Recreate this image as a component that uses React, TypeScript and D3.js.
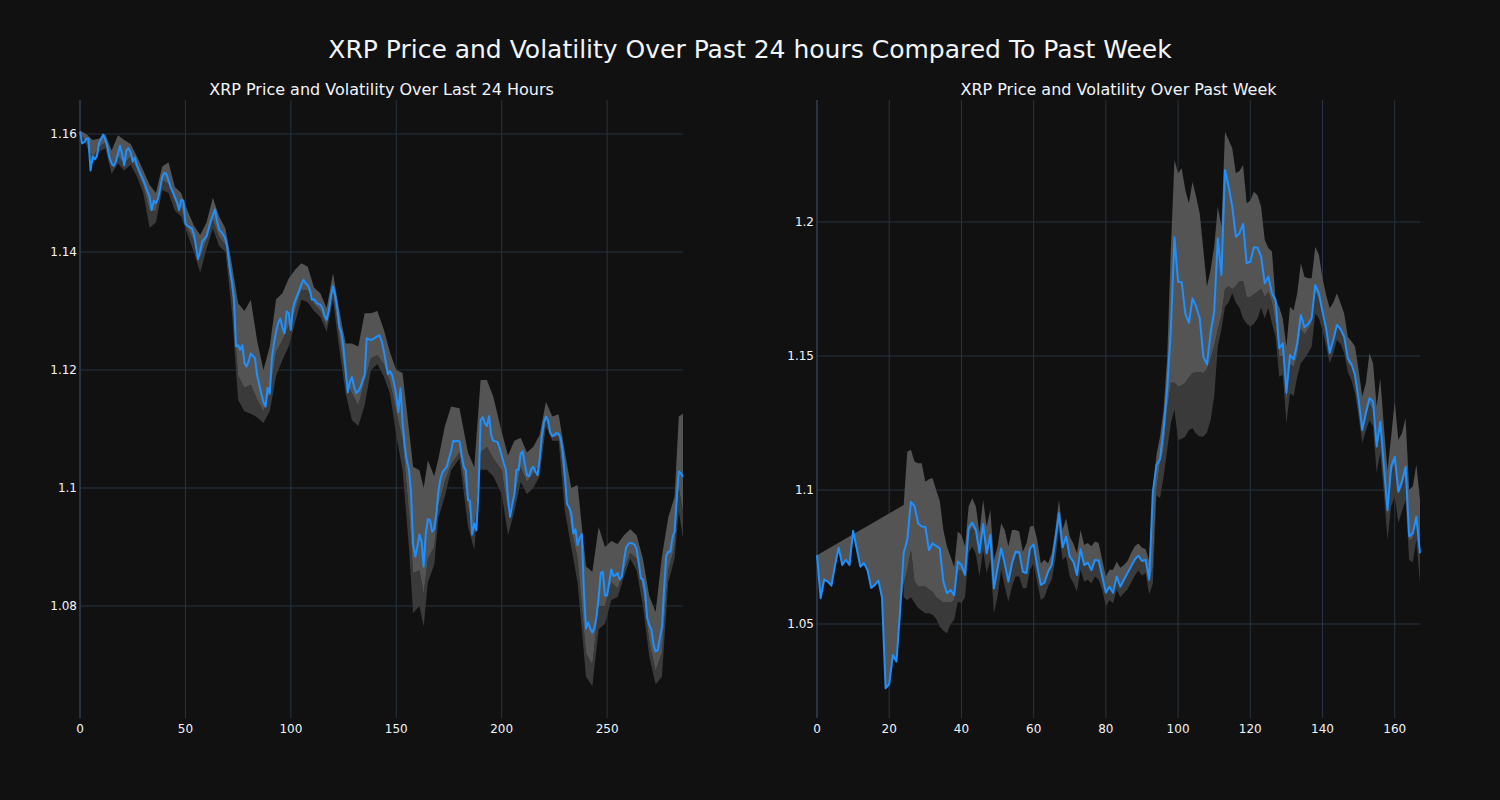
import React, { useEffect, useRef } from 'react';
import * as d3 from 'd3';

const mainTitle = 'XRP Price and Volatility Over Past 24 hours Compared To Past Week';
const dayTitle = 'XRP Price and Volatility Over Last 24 Hours';
const weekTitle = 'XRP Price and Volatility Over Past Week';

// 5-minute closes, last 24 hours (index 0..286)
const dayPrice = [
  1.1604, 1.1584, 1.1586, 1.1592, 1.1592, 1.1538, 1.1562, 1.1557, 1.1562, 1.1584,
  1.1592, 1.1599, 1.159, 1.1578, 1.156, 1.155, 1.1546, 1.1553, 1.1566, 1.158,
  1.1565, 1.1547, 1.1572, 1.1576, 1.1569, 1.1553, 1.156, 1.1547, 1.1538, 1.153,
  1.1522, 1.1513, 1.1503, 1.1494, 1.1471, 1.1487, 1.1483, 1.149, 1.1507, 1.1527,
  1.1534, 1.1532, 1.1521, 1.151, 1.1502, 1.1493, 1.1484, 1.1471, 1.1488, 1.1487,
  1.1448, 1.1444, 1.1442, 1.144, 1.143, 1.141, 1.1388, 1.1402, 1.1418, 1.1422,
  1.1426, 1.1439, 1.1452, 1.1462, 1.1472, 1.1452, 1.1438, 1.1434, 1.1429, 1.1422,
  1.1405, 1.1373, 1.135, 1.1322, 1.124, 1.1242, 1.1234, 1.1242, 1.1212, 1.1206,
  1.1215, 1.1228, 1.1224, 1.122, 1.1191, 1.1176, 1.116, 1.1146, 1.1138, 1.117,
  1.116, 1.122, 1.1245, 1.1265, 1.128, 1.1287, 1.1272, 1.1262, 1.1299, 1.1296,
  1.1268, 1.1305, 1.1317, 1.1326, 1.1335, 1.1345, 1.1353, 1.1347, 1.1344, 1.1336,
  1.1319, 1.132, 1.1315, 1.1312, 1.1311, 1.1305, 1.1292, 1.1285, 1.13, 1.1325,
  1.1342, 1.1327, 1.1306, 1.1273, 1.1263, 1.1237, 1.12, 1.1162, 1.118, 1.1188,
  1.1172, 1.1161, 1.1164, 1.1171, 1.1182, 1.1192, 1.1254, 1.1252, 1.1251, 1.1252,
  1.1255, 1.1257, 1.1259, 1.125, 1.1234, 1.1214, 1.1193, 1.1198, 1.1192, 1.1177,
  1.1158, 1.1129, 1.1169, 1.1112, 1.1072, 1.1046, 1.1032, 1.0992, 1.0905, 1.0884,
  1.09, 1.0921, 1.0909, 1.0867, 1.0922, 1.0947, 1.0946, 1.0926, 1.0931, 1.0955,
  1.0995, 1.1016, 1.1027, 1.1032, 1.1036, 1.105, 1.1062, 1.108, 1.1079, 1.108,
  1.1079, 1.1056, 1.1037, 1.103, 1.098, 1.0978, 1.0921, 1.094, 1.0928, 1.0995,
  1.1115, 1.112, 1.111, 1.1105, 1.1122, 1.109, 1.108, 1.1079, 1.1078, 1.1068,
  1.1055, 1.1042, 1.1031, 1.0982, 1.0951, 1.0972, 1.0988, 1.1031, 1.1031, 1.1058,
  1.1062, 1.104, 1.1022, 1.102, 1.1032, 1.1036, 1.1028, 1.1022, 1.1048, 1.1087,
  1.1111, 1.1121, 1.1115, 1.1094, 1.1088, 1.109, 1.1093, 1.1092, 1.1084, 1.1059,
  1.1018, 1.0973, 1.0967, 1.0958, 1.0923, 1.093, 1.0903, 1.0915, 1.0922, 1.0825,
  1.0762, 1.0772, 1.0762, 1.0755, 1.0763, 1.0782, 1.0815, 1.0856, 1.0858, 1.0818,
  1.0818, 1.084, 1.0862, 1.0851, 1.0852, 1.0856, 1.0845, 1.085, 1.0877, 1.0899,
  1.0905, 1.0907, 1.0906, 1.0904, 1.0896, 1.0874, 1.0847, 1.0845, 1.0825, 1.078,
  1.0768, 1.076, 1.0735, 1.0723, 1.0725, 1.0745, 1.0764, 1.0827, 1.0884, 1.0892,
  1.0892, 1.0916, 1.0926, 1.098, 1.1028, 1.1025, 1.1019,
];

// volatility band: [index, upper, middle, lower]
const dayBand: [number, number, number, number][] = [
  [0, 1.1606, 1.16, 1.1598], [3, 1.16, 1.1588, 1.1582], [6, 1.159, 1.156, 1.155],
  [9, 1.1592, 1.1578, 1.157], [12, 1.16, 1.1585, 1.1576], [15, 1.1572, 1.1545, 1.1532],
  [18, 1.1598, 1.1562, 1.155], [21, 1.159, 1.155, 1.1538], [24, 1.1583, 1.1562, 1.1548],
  [27, 1.1562, 1.154, 1.1528], [30, 1.1538, 1.1512, 1.15], [33, 1.1514, 1.147, 1.1441],
  [36, 1.15, 1.147, 1.145], [39, 1.1545, 1.1522, 1.1505], [42, 1.1552, 1.1515, 1.15],
  [45, 1.151, 1.1485, 1.147], [48, 1.15, 1.1475, 1.146], [51, 1.147, 1.144, 1.143],
  [54, 1.1445, 1.142, 1.14], [57, 1.1429, 1.139, 1.1365], [60, 1.145, 1.142, 1.1405],
  [63, 1.1492, 1.1455, 1.144], [66, 1.146, 1.1425, 1.141], [69, 1.144, 1.1412, 1.14],
  [72, 1.138, 1.133, 1.13], [75, 1.1313, 1.119, 1.1149], [78, 1.13, 1.117, 1.113],
  [81, 1.1319, 1.1175, 1.1126], [84, 1.125, 1.115, 1.112], [87, 1.12, 1.113, 1.111],
  [90, 1.124, 1.116, 1.113], [93, 1.132, 1.123, 1.119], [96, 1.133, 1.125, 1.1217],
  [99, 1.1355, 1.1275, 1.124], [102, 1.137, 1.13, 1.128], [105, 1.1381, 1.1335, 1.1319],
  [108, 1.1375, 1.1335, 1.1315], [111, 1.134, 1.1312, 1.13], [114, 1.133, 1.13, 1.129],
  [117, 1.1305, 1.1275, 1.1265], [120, 1.1364, 1.133, 1.1319], [123, 1.13, 1.1255, 1.1235],
  [126, 1.1245, 1.118, 1.116], [129, 1.1245, 1.116, 1.1115], [132, 1.124, 1.114, 1.1105],
  [135, 1.1296, 1.118, 1.114], [138, 1.1296, 1.122, 1.12], [141, 1.13, 1.1225, 1.121],
  [144, 1.127, 1.121, 1.119], [147, 1.123, 1.118, 1.116], [150, 1.12, 1.113, 1.109],
  [153, 1.1195, 1.108, 1.103], [156, 1.11, 1.096, 1.09], [158, 1.1036, 1.0856, 1.0788],
  [161, 1.103, 1.086, 1.08], [163, 1.1, 1.082, 1.0765], [165, 1.1047, 1.088, 1.084],
  [168, 1.102, 1.09, 1.087], [170, 1.105, 1.097, 1.095], [173, 1.1104, 1.101, 1.0985],
  [176, 1.1138, 1.104, 1.103], [180, 1.1135, 1.106, 1.105], [184, 1.106, 1.097, 1.0935],
  [187, 1.1035, 1.092, 1.0895], [190, 1.1183, 1.106, 1.1031], [193, 1.1183, 1.107, 1.1031],
  [196, 1.1155, 1.105, 1.102], [200, 1.1095, 1.103, 1.099], [203, 1.1055, 1.096, 1.092],
  [206, 1.108, 1.098, 1.096], [209, 1.1085, 1.1035, 1.101], [212, 1.106, 1.101, 1.099],
  [215, 1.107, 1.1025, 1.1], [218, 1.109, 1.104, 1.102], [221, 1.1146, 1.1115, 1.1105],
  [224, 1.1121, 1.1085, 1.108], [227, 1.1125, 1.1088, 1.108], [230, 1.106, 1.1, 1.096],
  [233, 1.1, 1.093, 1.09], [236, 1.1005, 1.088, 1.084], [240, 1.0867, 1.072, 1.068],
  [243, 1.0858, 1.07, 1.0664], [246, 1.0934, 1.08, 1.076], [249, 1.09, 1.08, 1.077],
  [252, 1.091, 1.084, 1.081], [255, 1.0905, 1.083, 1.0815], [258, 1.092, 1.086, 1.085],
  [261, 1.093, 1.089, 1.088], [264, 1.092, 1.088, 1.086], [267, 1.088, 1.0825, 1.08],
  [270, 1.0817, 1.074, 1.0715], [273, 1.079, 1.069, 1.0667], [276, 1.0884, 1.072, 1.068],
  [279, 1.095, 1.086, 1.084], [282, 1.0985, 1.09, 1.088], [284, 1.1121, 1.1, 1.096],
  [286, 1.1126, 1.096, 1.0915],
];

// hourly closes, past week (index 0..167)
const weekPrice = [
  1.0757, 1.0596, 1.0666, 1.0658, 1.0643, 1.072, 1.0785, 1.072, 1.074, 1.072,
  1.0848, 1.0782, 1.0714, 1.0727, 1.07, 1.0635, 1.0645, 1.0662, 1.06, 1.026,
  1.0276, 1.0384, 1.036, 1.0545, 1.0765, 1.0814, 1.0956, 1.094, 1.0876, 1.0864,
  1.0863, 1.0776, 1.0801, 1.0791, 1.0782, 1.0658, 1.0615, 1.0627, 1.0608, 1.0733,
  1.072, 1.0684, 1.086, 1.0878, 1.0851, 1.0766, 1.0873, 1.0764, 1.0832, 1.0633,
  1.0708, 1.0782, 1.0726, 1.0658, 1.0726, 1.077, 1.0768, 1.0695, 1.069, 1.0782,
  1.0797, 1.0714, 1.0646, 1.0654, 1.0695, 1.072, 1.0813, 1.0913, 1.0786, 1.0826,
  1.0751, 1.0733, 1.0683, 1.0779, 1.072, 1.0729, 1.0701, 1.0739, 1.0737, 1.0677,
  1.0617, 1.0639, 1.0617, 1.0677, 1.0639, 1.0665, 1.069, 1.0715, 1.074, 1.0755,
  1.0735, 1.074, 1.0665, 1.099, 1.1093, 1.1115, 1.123, 1.138, 1.16, 1.1943,
  1.1777, 1.1775, 1.1659, 1.1624, 1.1715, 1.1684, 1.1641, 1.1497, 1.1469, 1.1585,
  1.1665, 1.1939, 1.1802, 1.2194, 1.2132, 1.2057, 1.1945, 1.1958, 1.1993, 1.1846,
  1.1852, 1.1906, 1.1904, 1.1871, 1.1771, 1.1796, 1.1734, 1.1709, 1.1529, 1.1547,
  1.1363, 1.1504, 1.1488, 1.1547, 1.1653, 1.1607, 1.1619, 1.1641, 1.1765, 1.1734,
  1.1665, 1.1603, 1.1512, 1.156, 1.1616, 1.16, 1.1572, 1.1491, 1.147, 1.1429,
  1.1336, 1.1224, 1.1286, 1.1342, 1.133, 1.1162, 1.1255, 1.1087, 1.0925, 1.1087,
  1.1124, 1.0994, 1.1031, 1.1087, 1.0828, 1.0838, 1.09, 1.0764,
];

const weekBand: [number, number, number, number][] = [
  [24, 1.0944, 1.065, 1.06], [25, 1.1143, 1.07, 1.059], [26, 1.115, 1.0776, 1.06],
  [27, 1.1106, 1.066, 1.058], [28, 1.11, 1.064, 1.056], [29, 1.11, 1.064, 1.055],
  [30, 1.1031, 1.064, 1.054], [31, 1.104, 1.063, 1.054], [32, 1.1045, 1.062, 1.0535],
  [33, 1.1, 1.06, 1.052], [34, 1.096, 1.059, 1.049], [35, 1.0851, 1.058, 1.0475],
  [36, 1.0789, 1.058, 1.0465], [37, 1.0751, 1.058, 1.05], [38, 1.0713, 1.059, 1.0515],
  [39, 1.0845, 1.07, 1.0583], [40, 1.0832, 1.07, 1.0577], [41, 1.0789, 1.067, 1.06],
  [42, 1.0938, 1.084, 1.0764], [43, 1.0969, 1.086, 1.0789], [44, 1.0938, 1.084, 1.076],
  [45, 1.084, 1.076, 1.0677], [46, 1.0963, 1.086, 1.0776], [47, 1.0864, 1.076, 1.0689],
  [48, 1.0926, 1.082, 1.074], [49, 1.0739, 1.063, 1.054], [50, 1.0789, 1.07, 1.0602],
  [51, 1.0876, 1.077, 1.0702], [52, 1.0851, 1.072, 1.064], [53, 1.0789, 1.066, 1.0583],
  [54, 1.0851, 1.072, 1.064], [55, 1.0851, 1.076, 1.0677], [56, 1.0845, 1.076, 1.0677],
  [57, 1.077, 1.069, 1.0633], [58, 1.08, 1.0685, 1.0633], [59, 1.0864, 1.0775, 1.0702],
  [60, 1.0867, 1.079, 1.0727], [61, 1.0813, 1.071, 1.0652], [62, 1.0726, 1.064, 1.059],
  [63, 1.074, 1.065, 1.06], [64, 1.0726, 1.069, 1.064], [65, 1.0764, 1.0715, 1.0665],
  [66, 1.0851, 1.0805, 1.0739], [67, 1.0963, 1.09, 1.0851], [68, 1.0851, 1.078, 1.0739],
  [69, 1.0895, 1.082, 1.0752], [70, 1.0826, 1.0745, 1.0677], [71, 1.08, 1.0725, 1.0652],
  [72, 1.0764, 1.068, 1.0621], [73, 1.0851, 1.077, 1.0702], [74, 1.0795, 1.0715, 1.0658],
  [75, 1.0802, 1.072, 1.0665], [76, 1.079, 1.0695, 1.0652], [77, 1.0808, 1.0735, 1.0677],
  [78, 1.0802, 1.073, 1.0665], [79, 1.0739, 1.067, 1.0627], [80, 1.0677, 1.0612, 1.0565],
  [81, 1.0702, 1.0635, 1.059], [82, 1.0702, 1.0615, 1.0577], [83, 1.0733, 1.067, 1.0627],
  [84, 1.071, 1.0635, 1.06], [85, 1.072, 1.066, 1.0615], [86, 1.0735, 1.0685, 1.063],
  [87, 1.0765, 1.071, 1.0655], [88, 1.079, 1.0735, 1.068], [89, 1.08, 1.075, 1.07],
  [90, 1.0785, 1.073, 1.068], [91, 1.078, 1.0735, 1.069], [92, 1.0735, 1.0655, 1.061],
  [93, 1.1, 1.071, 1.065], [94, 1.113, 1.1, 1.098], [95, 1.12, 1.11, 1.097],
  [96, 1.13, 1.115, 1.105], [97, 1.15, 1.13, 1.115], [98, 1.19, 1.14, 1.125],
  [99, 1.2231, 1.14, 1.13], [100, 1.2182, 1.1386, 1.1187], [101, 1.2201, 1.139, 1.119],
  [102, 1.2119, 1.14, 1.12], [103, 1.207, 1.142, 1.1224], [104, 1.215, 1.1436, 1.123],
  [105, 1.2094, 1.144, 1.121], [106, 1.2032, 1.144, 1.12], [107, 1.1896, 1.1436, 1.1199],
  [108, 1.1759, 1.145, 1.1215], [109, 1.1821, 1.149, 1.126], [110, 1.1908, 1.1535, 1.1348],
  [111, 1.2057, 1.16, 1.1535], [112, 1.1982, 1.165, 1.16], [113, 1.2337, 1.175, 1.1684],
  [114, 1.2306, 1.176, 1.17], [115, 1.2275, 1.175, 1.1734], [116, 1.2182, 1.176, 1.17],
  [117, 1.219, 1.178, 1.168], [118, 1.2213, 1.178, 1.164], [119, 1.207, 1.172, 1.162],
  [120, 1.208, 1.172, 1.161], [121, 1.2113, 1.173, 1.162], [122, 1.21, 1.174, 1.164],
  [123, 1.2057, 1.175, 1.168], [124, 1.1933, 1.172, 1.164], [125, 1.1903, 1.174, 1.168],
  [126, 1.189, 1.17, 1.162], [127, 1.1709, 1.162, 1.1572], [128, 1.1684, 1.15, 1.1423],
  [129, 1.164, 1.15, 1.143], [130, 1.1535, 1.133, 1.1249], [131, 1.1684, 1.147, 1.1361],
  [132, 1.167, 1.146, 1.135], [133, 1.1734, 1.15, 1.1423], [134, 1.1846, 1.16, 1.1473],
  [135, 1.1796, 1.158, 1.149], [136, 1.179, 1.16, 1.151], [137, 1.179, 1.162, 1.1535],
  [138, 1.1908, 1.174, 1.1659], [139, 1.1877, 1.171, 1.164], [140, 1.179, 1.165, 1.1597],
  [141, 1.1728, 1.159, 1.1535], [142, 1.1678, 1.15, 1.1473], [143, 1.17, 1.155, 1.151],
  [144, 1.1734, 1.161, 1.156], [145, 1.1697, 1.159, 1.1545], [146, 1.1659, 1.156, 1.151],
  [147, 1.1572, 1.147, 1.144], [148, 1.1555, 1.146, 1.141], [149, 1.1535, 1.142, 1.1361],
  [150, 1.1448, 1.132, 1.1274], [151, 1.1349, 1.121, 1.1175], [152, 1.1398, 1.127, 1.122],
  [153, 1.151, 1.132, 1.126], [154, 1.1473, 1.13, 1.1237], [155, 1.1311, 1.115, 1.1063],
  [156, 1.1417, 1.124, 1.114], [157, 1.1237, 1.107, 1.0988], [158, 1.1075, 1.09, 1.0813],
  [159, 1.1199, 1.106, 1.0938], [160, 1.133, 1.11, 1.0976], [161, 1.1187, 1.098, 1.0876],
  [162, 1.1212, 1.101, 1.092], [163, 1.1268, 1.106, 1.0963], [164, 1.1001, 1.081, 1.0739],
  [165, 1.1013, 1.082, 1.073], [166, 1.1094, 1.088, 1.0814], [167, 1.0963, 1.075, 1.0652],
];

const dayXTicks = [0, 50, 100, 150, 200, 250];
const dayYTicks = [1.08, 1.1, 1.12, 1.14, 1.16];
const weekXTicks = [0, 20, 40, 60, 80, 100, 120, 140, 160];
const weekYTicks = [1.05, 1.1, 1.15, 1.2];

const BG = '#111111';
const GRID = '#283442';
const TEXT = '#f2f5fa';
const LINE = '#1e90ff';
const BAND_LIGHT = '#545454';
const BAND_DARK = '#3a3a3a';
const FONT = '"DejaVu Sans", Verdana, sans-serif';

const PLOT_TOP = 100;
const PLOT_H = 618;
const PLOT_W = 603;

interface PanelConfig {
  left: number;
  title: string;
  price: number[];
  band: [number, number, number, number][];
  yDomain: [number, number];
  xTicks: number[];
  yTicks: number[];
}

const drawPanel = (svg: d3.Selection<SVGSVGElement, unknown, null, undefined>, cfg: PanelConfig) => {
  const { left, title, price, band, yDomain, xTicks, yTicks } = cfg;
  const x = d3.scaleLinear().domain([0, price.length - 1]).range([left, left + PLOT_W]);
  const y = d3.scaleLinear().domain(yDomain).range([PLOT_TOP + PLOT_H, PLOT_TOP]);
  const g = svg.append('g');

  // grid
  g.selectAll('.gx')
    .data(xTicks.filter((t) => t !== 0))
    .enter()
    .append('line')
    .attr('x1', (d) => x(d))
    .attr('x2', (d) => x(d))
    .attr('y1', PLOT_TOP)
    .attr('y2', PLOT_TOP + PLOT_H)
    .attr('stroke', GRID)
    .attr('stroke-width', 1);
  g.selectAll('.gy')
    .data(yTicks)
    .enter()
    .append('line')
    .attr('x1', left)
    .attr('x2', left + PLOT_W)
    .attr('y1', (d) => y(d))
    .attr('y2', (d) => y(d))
    .attr('stroke', GRID)
    .attr('stroke-width', 1);
  // zero line of x
  g.append('line')
    .attr('x1', x(0))
    .attr('x2', x(0))
    .attr('y1', PLOT_TOP)
    .attr('y2', PLOT_TOP + PLOT_H)
    .attr('stroke', GRID)
    .attr('stroke-width', 2);

  // band polygons
  const poly = d3
    .line<[number, number]>()
    .x((d) => x(d[0]))
    .y((d) => y(d[1]));
  const first = band[0][0];
  const lightTop: [number, number][] = band.map((r) => [r[0], r[1]]);
  const lightBottom: [number, number][] = band.map((r) => [r[0], r[2]] as [number, number]).reverse();
  if (first > 0) {
    // the fill closes back onto the price line before the band starts
    lightTop.unshift([0, price[0]]);
    const head: [number, number][] = price.slice(0, first).map((p, i) => [i, p]);
    lightBottom.push(...head.reverse());
  }
  const darkTop: [number, number][] = band.map((r) => [r[0], r[2]]);
  const darkBottom: [number, number][] = band.map((r) => [r[0], r[3]] as [number, number]).reverse();

  g.append('path')
    .attr('d', poly([...darkTop, ...darkBottom]) + 'Z')
    .attr('fill', BAND_DARK);
  g.append('path')
    .attr('d', poly([...lightTop, ...lightBottom]) + 'Z')
    .attr('fill', BAND_LIGHT);

  // price line
  const line = d3
    .line<number>()
    .x((_, i) => x(i))
    .y((d) => y(d));
  g.append('path')
    .attr('d', line(price) as string)
    .attr('fill', 'none')
    .attr('stroke', LINE)
    .attr('stroke-width', 2)
    .attr('stroke-linejoin', 'round');

  // tick labels
  g.selectAll('.tx')
    .data(xTicks)
    .enter()
    .append('text')
    .attr('x', (d) => x(d))
    .attr('y', PLOT_TOP + PLOT_H + 15)
    .attr('text-anchor', 'middle')
    .attr('font-size', '12px')
    .attr('font-family', FONT)
    .attr('fill', TEXT)
    .text((d) => String(d));
  g.selectAll('.ty')
    .data(yTicks)
    .enter()
    .append('text')
    .attr('x', left - 3)
    .attr('y', (d) => y(d))
    .attr('dy', '0.35em')
    .attr('text-anchor', 'end')
    .attr('font-size', '12px')
    .attr('font-family', FONT)
    .attr('fill', TEXT)
    .text((d) => String(d));

  // subplot title
  g.append('text')
    .attr('x', left + PLOT_W / 2)
    .attr('y', 95)
    .attr('text-anchor', 'middle')
    .attr('font-size', '16px')
    .attr('font-family', FONT)
    .attr('fill', TEXT)
    .text(title);
};

const App: React.FC = () => {
  const chartRef = useRef<SVGSVGElement>(null);

  useEffect(() => {
    document.body.style.margin = '0';
    document.body.style.background = BG;
    if (!chartRef.current) return;
    const svg = d3.select(chartRef.current);
    svg.selectAll('*').remove();

    svg.append('rect').attr('width', 1500).attr('height', 800).attr('fill', BG);

    svg
      .append('text')
      .attr('x', 750)
      .attr('y', 58)
      .attr('text-anchor', 'middle')
      .attr('font-size', '25px')
      .attr('font-family', FONT)
      .attr('fill', TEXT)
      .text(mainTitle);

    drawPanel(svg, {
      left: 80,
      title: dayTitle,
      price: dayPrice,
      band: dayBand,
      yDomain: [1.06102, 1.16576],
      xTicks: dayXTicks,
      yTicks: dayYTicks,
    });
    drawPanel(svg, {
      left: 817,
      title: weekTitle,
      price: weekPrice,
      band: weekBand,
      yDomain: [1.01493, 1.24552],
      xTicks: weekXTicks,
      yTicks: weekYTicks,
    });
  }, []);

  return <svg ref={chartRef} width={1500} height={800} style={{ display: 'block' }}></svg>;
};

export default App;
